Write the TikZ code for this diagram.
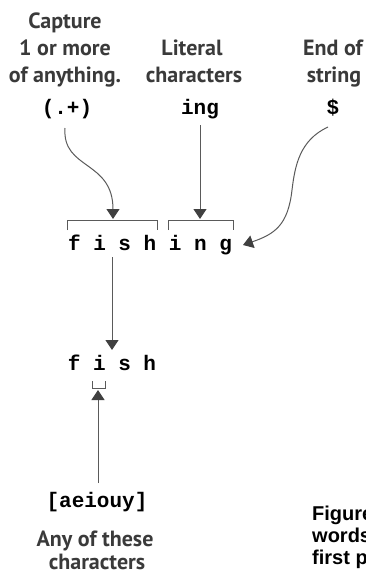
\documentclass[tikz,border=0pt]{standalone}
\usepackage{fontspec}
\setmainfont{PT Sans}
\newfontfamily\labfont{PT Sans}
\newfontfamily\codefont{Liberation Mono}
\newfontfamily\figfont{Liberation Sans}
\usetikzlibrary{arrows.meta}
\definecolor{labgray}{HTML}{3A3A3A}
\definecolor{linegray}{HTML}{5A5A5A}
\definecolor{headgray}{HTML}{404040}
\tikzset{
  lab/.style={anchor=base, inner sep=0pt, text=labgray, font=\labfont\bfseries\fontsize{22}{27}\selectfont},
  code/.style={anchor=base, inner sep=0pt, text=black, font=\codefont\bfseries\fontsize{21}{25}\selectfont},
  figtxt/.style={anchor=base west, inner sep=0pt, text=black, font=\figfont\bfseries\fontsize{20}{22}\selectfont},
  conn/.style={draw=linegray, line width=1pt, -{Triangle[length=10pt,width=13pt,fill=headgray,color=headgray]}},
  brk/.style={draw=linegray, line width=1pt}
}
\begin{document}
\begin{tikzpicture}[x=1pt,y=-1pt]
\useasboundingbox (0,0) rectangle (365,573);
% top labels
\node[lab] (cap1) at (65,28) {Capture};
\node[lab] (cap2) at (65,55) {1 or more};
\node[lab] (cap3) at (65,82) {of anything.};
\node[lab] (lit1) at (192,55) {Literal};
\node[lab] (lit2) at (194,82) {characters};
\node[lab] (end1) at (333,55) {End of};
\node[lab] (end2) at (334,82) {string};
% code tokens
\node[code] (grp) at (67,114) {(.+)};
\node[code] (ing) at (200,114) {ing};
\node[code] (dol) at (333,114) {\$};
% start points
\coordinate (grpS) at (65,128);
\coordinate (ingS) at (200,125);
\coordinate (dolS) at (328,127);
% brackets
\coordinate (b1m) at (113,219);
\coordinate (b2m) at (200,219);
\draw[brk] (67,230) -- (67,220) -- (157,220) -- (157,230);
\draw[brk] (168,230) -- (168,220) -- (233,220) -- (233,230);
% fishing
\node[code] (fishing) at (150,250) {f i s h i n g};
\coordinate (gEnd) at (243,245);
% arrows from tokens
\draw[conn] (grpS) .. controls (62,170) and (113,160) .. (b1m);
\draw[conn] (ingS) -- (b2m);
\draw[conn] (dolS) .. controls (300,140) and (295,165) .. (292,190) .. controls (288,225) and (275,234) .. (gEnd);
% fish
\coordinate (fishingS) at (112,257);
\node[code] (fish) at (112,370) {f i s h};
\coordinate (fishT) at (112,350);
\draw[conn] (fishingS) -- (fishT);
% small bracket under i
\draw[brk] (92,381) -- (92,388) -- (105,388) -- (105,381);
\coordinate (smallB) at (98,390);
% vowels
\node[code] (vow) at (97,507) {[aeiouy]};
\coordinate (vowS) at (98,483);
\draw[conn] (vowS) -- (smallB);
\node[lab] (any1) at (95,546) {Any of these};
\node[lab] (any2) at (97,569) {characters};
% figure caption fragment
\node[figtxt] (fig1) at (312,520) {Figure};
\node[figtxt] (fig2) at (312,542) {words};
\node[figtxt] (fig3) at (312,564) {first p};
\end{tikzpicture}
\end{document}
